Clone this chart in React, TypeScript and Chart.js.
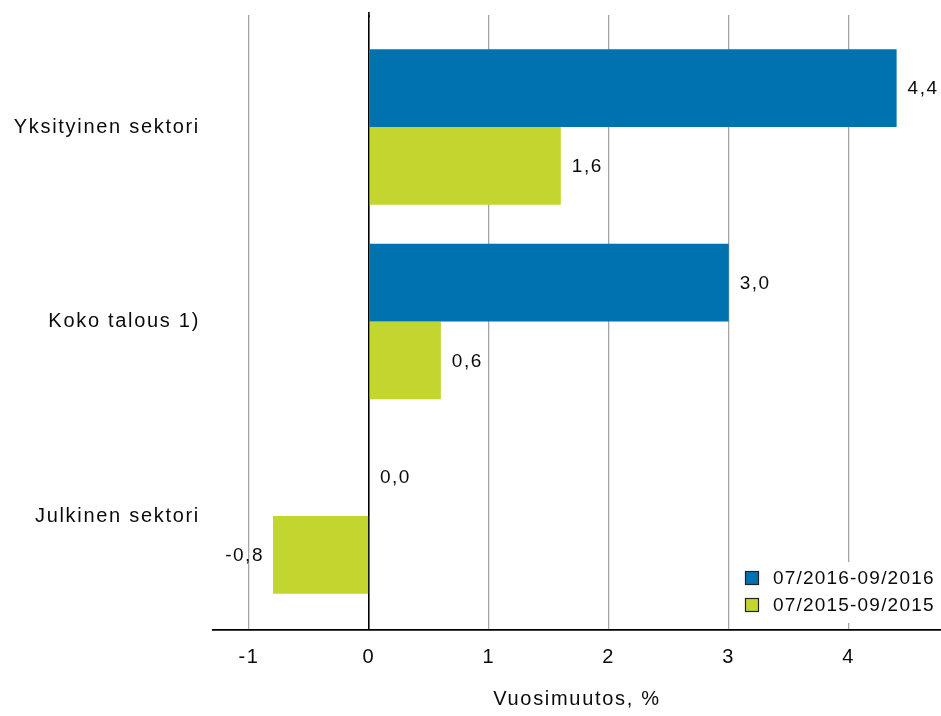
import React, { useEffect, useRef } from "react";
import { Chart, registerables } from "chart.js";
Chart.register(...registerables);

const categories = ["Yksityinen sektori", "Koko talous 1)", "Julkinen sektori"];
const seriesNames = ["07/2016-09/2016", "07/2015-09/2015"];
const values2016 = [4.4, 3.0, 0.0];
const values2015 = [1.6, 0.6, -0.8];
const xTickValues = [-1, 0, 1, 2, 3, 4];
const xTickLabels = ["-1", "0", "1", "2", "3", "4"];
const axisTitle = "Vuosimuutos, %";
const seriesColors = ["#0072b0", "#c2d62f"];

const FONT_FAMILY = "'Liberation Sans', Arial, sans-serif";
const FONT_SIZE = 20;
const SMALL_FONT_SIZE = 19;
const LETTER_SPACING = "1.7px";
const TEXT_COLOR = "#0a0a0a";

const toPoints = (vals: number[]) => vals.map((v, i) => ({ x: v, y: i }));
const fmt = (v: number) => v.toFixed(1).replace(".", ",");

const spacingPlugin = {
  id: "spacing",
  beforeLayout(chart: any) {
    chart.ctx.letterSpacing = LETTER_SPACING;
  },
  beforeDraw(chart: any) {
    chart.ctx.letterSpacing = LETTER_SPACING;
  },
};

const valueLabelPlugin = {
  id: "valueLabels",
  afterDatasetsDraw(chart: any) {
    const ctx = chart.ctx;
    ctx.save();
    ctx.letterSpacing = "1.5px";
    ctx.font = `${SMALL_FONT_SIZE}px ${FONT_FAMILY}`;
    ctx.fillStyle = TEXT_COLOR;
    ctx.textBaseline = "middle";
    chart.data.datasets.forEach((ds: any, di: number) => {
      const meta = chart.getDatasetMeta(di);
      meta.data.forEach((bar: any, i: number) => {
        const v = ds.data[i].x;
        if (v < 0) {
          ctx.textAlign = "right";
          ctx.fillText(fmt(v), bar.x - 9, bar.y + 1);
        } else {
          ctx.textAlign = "left";
          ctx.fillText(fmt(v), bar.x + 11, bar.y + 1);
        }
      });
    });
    ctx.restore();
  },
};

const zeroLinePlugin = {
  id: "zeroLine",
  afterDraw(chart: any) {
    const ctx = chart.ctx;
    const x = chart.scales.x.getPixelForValue(0);
    ctx.save();
    ctx.strokeStyle = "#000";
    ctx.lineWidth = 1.6;
    ctx.beginPath();
    ctx.moveTo(x, chart.chartArea.top - 3);
    ctx.lineTo(x, chart.chartArea.top + 2);
    ctx.stroke();
    ctx.restore();
  },
};

const legendPlugin = {
  id: "customLegend",
  afterDraw(chart: any) {
    const ctx = chart.ctx;
    ctx.save();
    ctx.letterSpacing = "1.2px";
    ctx.fillStyle = "#fff";
    ctx.fillRect(740, 562, 201, 61);
    ctx.font = `${SMALL_FONT_SIZE}px ${FONT_FAMILY}`;
    ctx.textBaseline = "middle";
    ctx.textAlign = "left";
    seriesNames.forEach((name, i) => {
      const cy = 578 + i * 27;
      ctx.fillStyle = seriesColors[i];
      ctx.fillRect(745, cy - 7, 14, 14);
      ctx.strokeStyle = "#222";
      ctx.lineWidth = 1.2;
      ctx.strokeRect(745.5, cy - 6.5, 13, 13);
      ctx.fillStyle = TEXT_COLOR;
      ctx.fillText(name, 773, cy + 1);
    });
    ctx.restore();
  },
};

export default function App() {
  const ref = useRef<HTMLCanvasElement | null>(null);
  useEffect(() => {
    if (!ref.current) return;
    const font = { family: FONT_FAMILY, size: FONT_SIZE };
    const chart = new Chart(ref.current, {
      type: "bar",
      data: {
        datasets: [
          {
            label: seriesNames[0],
            data: toPoints(values2016),
            backgroundColor: seriesColors[0],
            borderWidth: 0,
            barPercentage: 1,
            categoryPercentage: 0.8,
          },
          {
            label: seriesNames[1],
            data: toPoints(values2015),
            backgroundColor: seriesColors[1],
            borderWidth: 0,
            barPercentage: 1,
            categoryPercentage: 0.8,
          },
        ],
      } as any,
      options: {
        indexAxis: "y",
        animation: false,
        responsive: false,
        devicePixelRatio: 1,
        layout: { padding: { top: 15, left: 0, right: 0, bottom: 0 } },
        plugins: {
          legend: { display: false },
          tooltip: { enabled: false },
        },
        scales: {
          x: {
            type: "linear",
            min: -1.3,
            max: 4.77,
            afterBuildTicks: (scale: any) => {
              scale.ticks = xTickValues.map((v) => ({ value: v }));
            },
            afterFit: (scale: any) => {
              scale.height = 86;
              scale.paddingLeft = 0;
              scale.paddingRight = 0;
            },
            grid: {
              drawTicks: false,
              color: (c: any) => (c.tick && c.tick.value === 0 ? "#000" : "#a5a5a5"),
              lineWidth: (c: any) => (c.tick && c.tick.value === 0 ? 1.6 : 1.3),
            },
            border: { display: true, color: "#000", width: 1.8 },
            ticks: {
              font,
              color: TEXT_COLOR,
              padding: 15,
              autoSkip: false,
              maxRotation: 0,
              callback: (_v: any, i: number) => xTickLabels[i],
            },
            title: {
              display: true,
              text: axisTitle,
              font,
              color: TEXT_COLOR,
              padding: { top: 0, bottom: 5 },
            },
          },
          y: {
            type: "linear",
            reverse: true,
            offset: false,
            min: -0.576,
            max: 2.586,
            afterBuildTicks: (scale: any) => {
              scale.ticks = categories.map((_c, i) => ({ value: i }));
            },
            afterFit: (scale: any) => {
              scale.width = 213;
              scale.paddingTop = 0;
              scale.paddingBottom = 0;
            },
            grid: { display: false, drawTicks: false, offset: false },
            border: { display: false },
            ticks: {
              font,
              color: TEXT_COLOR,
              padding: 13,
              autoSkip: false,
              callback: (v: any) => categories[v],
            },
          },
        } as any,
      } as any,
      plugins: [spacingPlugin, valueLabelPlugin, zeroLinePlugin, legendPlugin],
    });
    return () => chart.destroy();
  }, []);
  return (
    <div style={{ position: "absolute", left: 0, top: 0, width: 941, height: 716, background: "#fff" }}>
      <canvas ref={ref} width={941} height={716} style={{ display: "block" }} />
    </div>
  );
}
